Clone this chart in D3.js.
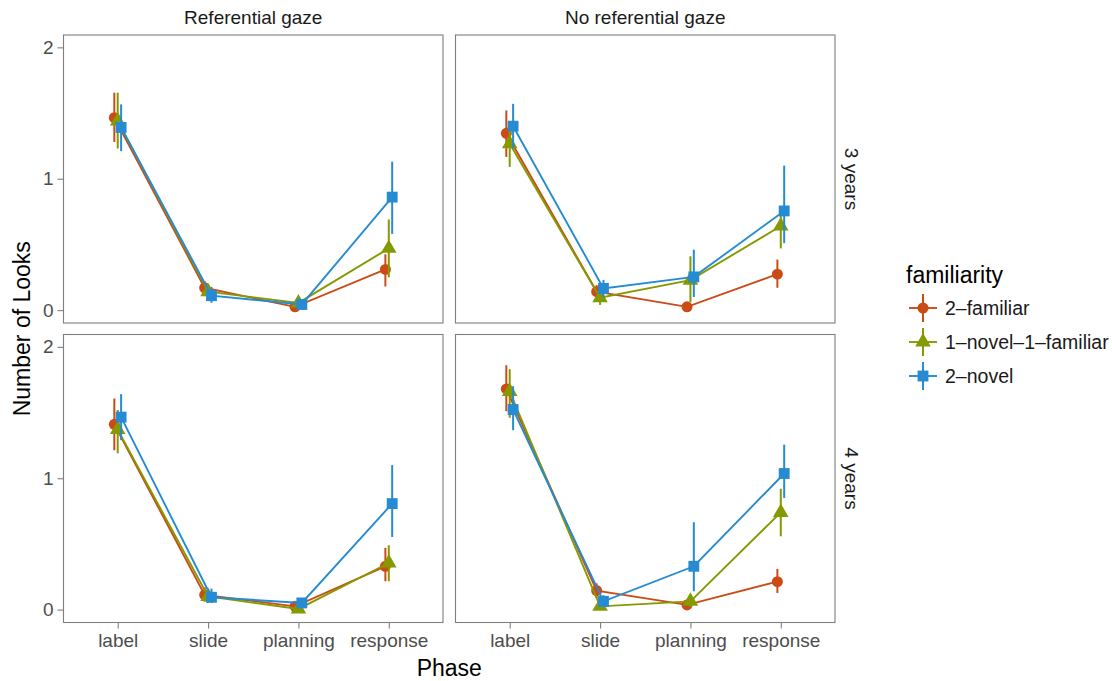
<!DOCTYPE html>
<html>
<head>
<meta charset="utf-8">
<script src="https://cdn.jsdelivr.net/npm/d3@7"></script>
<style>
  body { margin: 0; background: #fff; }
  text { font-family: "Liberation Sans", Arial, sans-serif; }
</style>
</head>
<body>
<div id="chart"></div>
<script>
// categories
let phases = ["label", "slide", "planning", "response"];
let gazes = ["Referential gaze", "No referential gaze"];
let ages = ["3 years", "4 years"];
let groups = ["2\u2013familiar", "1\u2013novel\u20131\u2013familiar", "2\u2013novel"];
let colors = ["#cb4b16", "#859900", "#268bd2"];
let y_ticks = [0, 1, 2];

// means, lower and upper ends of error bars, per panel [gaze][age], per group
let ref3_mean = [[1.465, 0.17, 0.025, 0.31], [1.44, 0.14, 0.055, 0.47], [1.39, 0.11, 0.043, 0.86]];
let ref3_lo   = [[1.28, 0.12, 0.005, 0.18], [1.23, 0.09, 0.02, 0.25], [1.21, 0.056, 0.01, 0.58]];
let ref3_hi   = [[1.655, 0.22, 0.045, 0.425], [1.655, 0.2, 0.09, 0.69], [1.566, 0.177, 0.075, 1.13]];

let noref3_mean = [[1.346, 0.14, 0.025, 0.274], [1.267, 0.094, 0.228, 0.64], [1.40, 0.165, 0.253, 0.755]];
let noref3_lo   = [[1.166, 0.09, 0.005, 0.17], [1.09, 0.04, 0.06, 0.47], [1.23, 0.10, 0.10, 0.51]];
let noref3_hi   = [[1.52, 0.19, 0.045, 0.385], [1.44, 0.15, 0.41, 0.78], [1.57, 0.23, 0.46, 1.10]];

let ref4_mean = [[1.41, 0.112, 0.025, 0.33], [1.37, 0.10, 0.005, 0.355], [1.465, 0.094, 0.051, 0.807]];
let ref4_lo   = [[1.213, 0.06, 0.005, 0.216], [1.19, 0.05, 0.0, 0.216], [1.29, 0.05, 0.02, 0.553]];
let ref4_hi   = [[1.607, 0.17, 0.045, 0.47], [1.52, 0.16, 0.02, 0.49], [1.64, 0.16, 0.08, 1.10]];

let noref4_mean = [[1.68, 0.145, 0.036, 0.213], [1.66, 0.025, 0.063, 0.74], [1.523, 0.063, 0.33, 1.036]];
let noref4_lo   = [[1.51, 0.09, 0.01, 0.127], [1.46, 0.0, 0.02, 0.558], [1.366, 0.02, 0.14, 0.85]];
let noref4_hi   = [[1.86, 0.2, 0.06, 0.31], [1.83, 0.06, 0.11, 0.92], [1.70, 0.11, 0.665, 1.256]];

let panels = [
  {gaze: 0, age: 0, mean: ref3_mean, lo: ref3_lo, hi: ref3_hi},
  {gaze: 1, age: 0, mean: noref3_mean, lo: noref3_lo, hi: noref3_hi},
  {gaze: 0, age: 1, mean: ref4_mean, lo: ref4_lo, hi: ref4_hi},
  {gaze: 1, age: 1, mean: noref4_mean, lo: noref4_lo, hi: noref4_hi}
];

let w = 1112, h = 681;
let panel_x = [63.5, 455.5];
let panel_y = [35, 334.5];
let pw = 379.5, ph = 288;
let border = "#7f7f7f";
let fs = "19px";

let svg = d3.select("#chart").append("svg")
  .attr("width", w).attr("height", h)
  .attr("viewBox", "0 0 " + w + " " + h);

// scales
let xScale = d3.scalePoint().domain(phases).range([0, pw]).padding(0.6);
let yScale = d3.scaleLinear().domain([-0.098, 2.094]).range([ph, 0]);
let dodge = d3.scalePoint().domain(d3.range(groups.length)).range([-3.4, 3.4]);
let shapes = [d3.symbolCircle, d3.symbolTriangle, d3.symbolSquare];
let sizes = [95, 105, 118];

let line = d3.line()
  .x(d => d.x)
  .y(d => yScale(d.y));

panels.forEach(function(p){
  let g = svg.append("g")
    .attr("transform", "translate(" + panel_x[p.gaze] + "," + panel_y[p.age] + ")");

  g.append("rect").attr("width", pw).attr("height", ph).attr("fill", "#fff");

  // y axis on the left column only
  if (p.gaze === 0){
    let yAxis = d3.axisLeft(yScale).tickValues(y_ticks).tickSize(6).tickPadding(4)
      .tickFormat(d3.format("d"));
    let ya = g.append("g").call(yAxis);
    ya.select(".domain").remove();
    ya.selectAll("line").attr("stroke", border).attr("stroke-width", 1.1);
    ya.selectAll("text").attr("fill", "#4d4d4d").style("font-size", fs)
      .style("font-family", "Liberation Sans, Arial, sans-serif");
  }
  // x axis on the bottom row only
  if (p.age === 1){
    let xAxis = d3.axisBottom(xScale).tickSize(6).tickPadding(5);
    let xa = g.append("g").attr("transform", "translate(0," + ph + ")").call(xAxis);
    xa.select(".domain").remove();
    xa.selectAll("line").attr("stroke", border).attr("stroke-width", 1.1);
    xa.selectAll("text").attr("fill", "#4d4d4d").style("font-size", fs)
      .style("font-family", "Liberation Sans, Arial, sans-serif");
  }

  groups.forEach(function(grp, i){
    let pts = phases.map((ph_, j) => ({
      x: xScale(ph_) + dodge(i), y: p.mean[i][j], lo: p.lo[i][j], hi: p.hi[i][j]
    }));
    g.append("path").datum(pts)
      .attr("d", line)
      .attr("fill", "none")
      .attr("stroke", colors[i])
      .attr("stroke-width", 1.9);
    g.selectAll(".err" + i).data(pts).enter().append("line")
      .attr("x1", d => d.x).attr("x2", d => d.x)
      .attr("y1", d => yScale(d.lo)).attr("y2", d => yScale(d.hi))
      .attr("stroke", colors[i])
      .attr("stroke-width", 2);
    g.selectAll(".pt" + i).data(pts).enter().append("path")
      .attr("transform", d => "translate(" + d.x + "," + yScale(d.y) + ")")
      .attr("d", d3.symbol().type(shapes[i]).size(sizes[i]))
      .attr("fill", colors[i]);
  });

  g.append("rect").attr("width", pw).attr("height", ph)
    .attr("fill", "none").attr("stroke", border).attr("stroke-width", 1.1);
});

// strip labels
gazes.forEach(function(s, k){
  svg.append("text")
    .attr("x", panel_x[k] + pw / 2).attr("y", 23.5)
    .attr("text-anchor", "middle")
    .attr("fill", "#1a1a1a")
    .style("font-size", fs)
    .text(s);
});
ages.forEach(function(s, k){
  let cy = panel_y[k] + ph / 2;
  svg.append("text")
    .attr("transform", "translate(845," + cy + ") rotate(90)")
    .attr("text-anchor", "middle")
    .attr("fill", "#1a1a1a")
    .style("font-size", fs)
    .text(s);
});

// axis titles
svg.append("text")
  .attr("x", (panel_x[0] + panel_x[1] + pw) / 2).attr("y", 676)
  .attr("text-anchor", "middle")
  .style("font-size", "23px")
  .text("Phase");
svg.append("text")
  .attr("transform", "translate(30," + (panel_y[0] + (panel_y[1] + ph - panel_y[0]) / 2) + ") rotate(-90)")
  .attr("text-anchor", "middle")
  .style("font-size", "23px")
  .text("Number of Looks");

// legend
let legend = svg.append("g").attr("transform", "translate(906,0)");
legend.append("text")
  .attr("x", 0).attr("y", 283)
  .style("font-size", "23px")
  .text("familiarity");
let key_y = [308, 342, 376];
groups.forEach(function(grp, i){
  let k = legend.append("g").attr("transform", "translate(17," + key_y[i] + ")");
  k.append("line").attr("x1", -14).attr("x2", 14)
    .attr("stroke", colors[i]).attr("stroke-width", 1.9);
  k.append("line").attr("y1", -14).attr("y2", 14)
    .attr("stroke", colors[i]).attr("stroke-width", 2);
  k.append("path")
    .attr("d", d3.symbol().type(shapes[i]).size(sizes[i]))
    .attr("fill", colors[i]);
  legend.append("text")
    .attr("x", 39).attr("y", key_y[i] + 7)
    .style("font-size", "19.5px")
    .attr("fill", "#1a1a1a")
    .text(grp);
});
</script>
</body>
</html>
